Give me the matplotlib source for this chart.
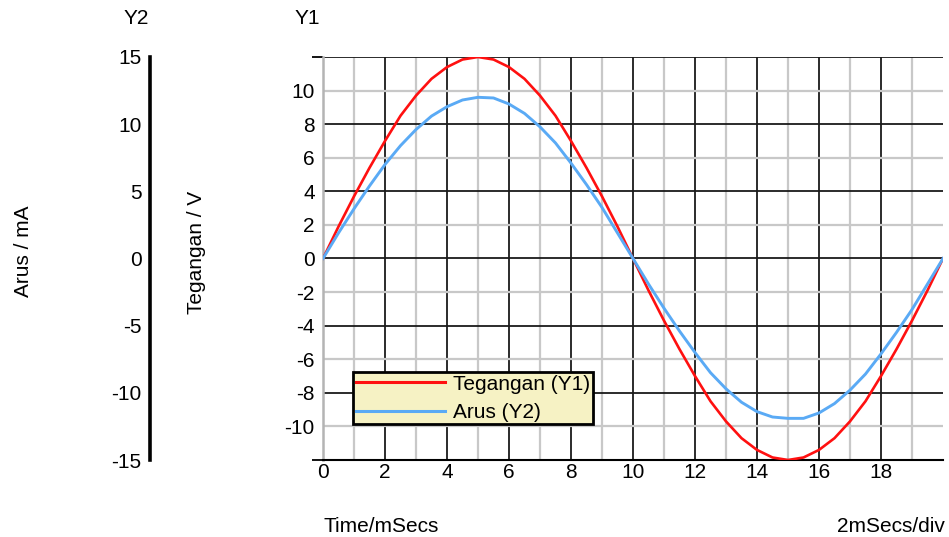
import numpy as np
import matplotlib
matplotlib.use("Agg")
import matplotlib.pyplot as plt
from matplotlib.lines import Line2D

plt.rcParams['font.family'] = ['Liberation Sans', 'DejaVu Sans']
FS = 15

# time axis (ms)
time_ms = [0.0, 0.5, 1.0, 1.5, 2.0, 2.5, 3.0, 3.5, 4.0, 4.5, 5.0,
           5.5, 6.0, 6.5, 7.0, 7.5, 8.0, 8.5, 9.0, 9.5, 10.0,
           10.5, 11.0, 11.5, 12.0, 12.5, 13.0, 13.5, 14.0, 14.5, 15.0,
           15.5, 16.0, 16.5, 17.0, 17.5, 18.0, 18.5, 19.0, 19.5, 20.0]

# voltage (V) on Y1
tegangan = [0.0, 1.9, 3.7, 5.4, 7.0, 8.5, 9.7, 10.7, 11.4, 11.85, 12.0,
            11.85, 11.4, 10.7, 9.7, 8.5, 7.0, 5.4, 3.7, 1.9, 0.0,
            -1.9, -3.7, -5.4, -7.0, -8.5, -9.7, -10.7, -11.4, -11.85, -12.0,
            -11.85, -11.4, -10.7, -9.7, -8.5, -7.0, -5.4, -3.7, -1.9, 0.0]

# current (mA) on Y2
arus = [0.0, 1.9, 3.7, 5.4, 7.0, 8.4, 9.6, 10.6, 11.3, 11.8, 12.0,
        11.95, 11.5, 10.8, 9.8, 8.6, 7.1, 5.5, 3.8, 1.9, 0.0,
        -1.9, -3.7, -5.4, -7.0, -8.5, -9.7, -10.7, -11.4, -11.8, -11.9,
        -11.9, -11.5, -10.8, -9.8, -8.6, -7.1, -5.5, -3.8, -1.9, 0.0]

x_ticks = [0, 2, 4, 6, 8, 10, 12, 14, 16, 18]
y1_ticks = [-10, -8, -6, -4, -2, 0, 2, 4, 6, 8, 10]
y2_ticks = [-15, -10, -5, 0, 5, 10, 15]

W, H = 949, 537
fig = plt.figure(figsize=(W / 100, H / 100), dpi=100)
fig.patch.set_facecolor('white')

L, R, T, B = 323, 943, 57, 460
ax = fig.add_axes([L / W, 1 - B / H, (R - L) / W, (B - T) / H])
ax.set_facecolor('white')
ax.set_xlim(0, 20)
ax.set_ylim(-12, 12)

BLACK_GRID = '#1a1a1a'
GRAY_GRID = '#c8c8c8'

# vertical grid: black every 2 ms, gray in between
for xv in range(1, 20):
    ax.axvline(xv, color=BLACK_GRID if xv % 2 == 0 else GRAY_GRID,
               lw=1.3 if xv % 2 == 0 else 1.6, zorder=1)
# horizontal grid: black every 4 V, gray in between
for yv in range(-10, 13, 2):
    ax.axhline(yv, color=BLACK_GRID if yv % 4 == 0 else GRAY_GRID,
               lw=1.3 if yv % 4 == 0 else 1.6, zorder=1)

for s in ['top', 'right']:
    ax.spines[s].set_visible(False)
ax.spines['left'].set_color('#b4b4b4')
ax.spines['left'].set_linewidth(1.8)
ax.spines['bottom'].set_color('black')
ax.spines['bottom'].set_linewidth(1.5)

ax.set_xticks(x_ticks)
ax.set_xticklabels([str(v) for v in x_ticks])
ax.set_yticks(y1_ticks)
ax.set_yticklabels([str(v) for v in y1_ticks])
ax.tick_params(axis='x', length=0, pad=2, labelsize=FS)
ax.tick_params(axis='y', length=0, pad=6, labelsize=FS)
# short black ticks at the black horizontal lines
ax.set_yticks([-12, -8, -4, 0, 4, 8, 12], minor=True)
ax.tick_params(axis='y', which='minor', length=8, width=1.3, color='black')

ax.plot(time_ms, tegangan, color='#ff1010', lw=1.9, zorder=3)

ax2 = ax.twinx()
ax2.set_ylim(-15, 15)
ax2.plot(time_ms, arus, color='#5aaaf5', lw=2.1, zorder=3)
for s in ['top', 'right', 'bottom']:
    ax2.spines[s].set_visible(False)
ax2.spines['left'].set_visible(True)
ax2.spines['left'].set_position(('axes', -(L - 150) / (R - L)))
ax2.spines['left'].set_linewidth(2.6)
ax2.spines['left'].set_color('black')
ax2.yaxis.tick_left()
ax2.set_yticks(y2_ticks)
ax2.set_yticklabels([str(v) for v in y2_ticks])
ax2.tick_params(axis='y', length=0, pad=6, labelsize=FS)

# axis titles
fig.text(136 / W, 1 - 18 / H, 'Y2', ha='center', va='center', fontsize=FS)
fig.text(307 / W, 1 - 18 / H, 'Y1', ha='center', va='center', fontsize=FS)
fig.text(24 / W, 1 - 251 / H, 'Arus / mA', rotation=90, ha='center', va='center', fontsize=FS)
fig.text(197 / W, 1 - 252 / H, 'Tegangan / V', rotation=90, ha='center', va='center', fontsize=FS)
fig.text(L / W, 1 - 526 / H, 'Time/mSecs', ha='left', va='center', fontsize=FS)
fig.text(945 / W, 1 - 526 / H, '2mSecs/div', ha='right', va='center', fontsize=FS)

handles = [Line2D([], [], color='#ff1010', lw=2.2),
           Line2D([], [], color='#5aaaf5', lw=2.2)]
leg = fig.legend(handles, ['Tegangan (Y1)', 'Arus (Y2)'],
                 loc='upper left', bbox_to_anchor=(353 / W, 1 - 372 / H),
                 fontsize=FS, frameon=True, fancybox=False, framealpha=1,
                 facecolor='#f6f2c4', edgecolor='black',
                 handlelength=4.3, handletextpad=0.4, labelspacing=0.45,
                 borderpad=0.12, borderaxespad=0)
leg.get_frame().set_linewidth(2)
leg.set_zorder(10)

fig.savefig('out.png', dpi=100)
